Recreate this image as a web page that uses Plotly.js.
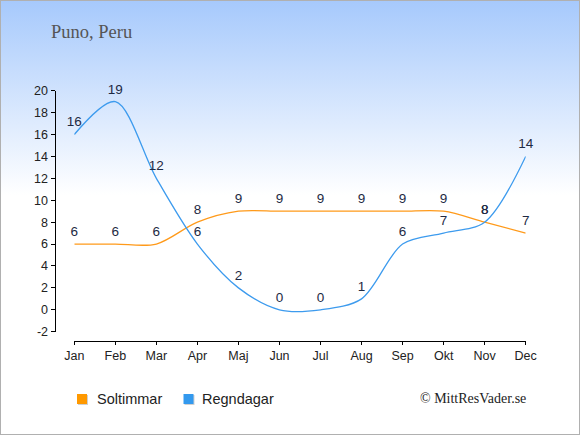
<!DOCTYPE html>
<html>
<head>
<meta charset="utf-8">
<script src="https://cdn.plot.ly/plotly-3.0.1.min.js"></script>
<style>
html,body{margin:0;padding:0;}
#wrap{width:580px;height:435px;background:linear-gradient(to bottom,#a6c9fc 0px,#ffffff 195px,#ffffff 435px);}
#chart{width:580px;height:435px;}
</style>
</head>
<body>
<div id="wrap"><div id="chart"></div></div>
<script>
const months = ["Jan","Feb","Mar","Apr","Maj","Jun","Jul","Aug","Sep","Okt","Nov","Dec"];
const soltimmar = [6,6,6,8,9,9,9,9,9,9,8,7];
const regndagar = [16,19,12,6,2,0,0,1,6,7,8,14];
const yTickValues = [-2,0,2,4,6,8,10,12,14,16,18,20];
const yTickLabels = ["-2","0","2","4","6","8","10","12","14","16","18","20"];
const seriesNames = ["Soltimmar","Regndagar"];
const seriesColors = ["#ff9a1a","#3d9bee"];
const legendColors = ["#ff9900","#3399ee"];
const titleText = "Puno, Peru";
const creditText = "© MittResVader.se";

const W = 580, H = 435;
const labelFont = {family:"Liberation Sans, Arial, sans-serif", size:13.5, color:"#1e2a44"};

function lineTrace(vals, i){
  return {
    x: months, y: vals, type:"scatter", mode:"lines+markers+text",
    name: seriesNames[i], showlegend:false,
    line:{color:seriesColors[i], width:1.3, shape:"spline", smoothing:0.9},
    marker:{size:6, color:"rgba(0,0,0,0)"},
    text: vals.map(String), textposition:"top center", textfont: labelFont,
    cliponaxis:false, hoverinfo:"skip"
  };
}

const data = [lineTrace(soltimmar,0), lineTrace(regndagar,1)];

const tickFont = {family:"Liberation Sans, Arial, sans-serif", size:12.5, color:"#222"};
const legFont = {family:"Liberation Sans, Arial, sans-serif", size:14.5, color:"#222"};

// legend key layout (pixels)
const legendSquareLeft = [77, 183.5];
const legendTextLeft = [94.5, 199.5];
const legendCenterY = 399;

const shapes = [];
const annotations = [];
for (let i = 0; i < seriesNames.length; i++) {
  shapes.push({type:"rect", xref:"paper", yref:"paper",
    x0:(legendSquareLeft[i]+1)/W, x1:(legendSquareLeft[i]+11)/W,
    y0:1-(legendCenterY+6)/H, y1:1-(legendCenterY-4)/H,
    line:{width:0}, fillcolor:"rgba(120,120,120,0.35)", layer:"above"});
  shapes.push({type:"rect", xref:"paper", yref:"paper",
    x0:legendSquareLeft[i]/W, x1:(legendSquareLeft[i]+10)/W,
    y0:1-(legendCenterY+5)/H, y1:1-(legendCenterY-5)/H,
    line:{width:0}, fillcolor:legendColors[i], layer:"above"});
  annotations.push({text:seriesNames[i], xref:"paper", yref:"paper",
    x:legendTextLeft[i]/W, xanchor:"left", y:1-legendCenterY/H, yanchor:"middle",
    showarrow:false, font:legFont});
}
annotations.push({text:creditText, xref:"paper", yref:"paper", x:528/W, xanchor:"right", y:1-398/H, yanchor:"middle",
  showarrow:false, font:{family:"Liberation Serif, Times New Roman, serif", size:14, color:"#222"}});
shapes.push({type:"rect", xref:"paper", yref:"paper", x0:0, x1:1, y0:0, y1:1, line:{color:"#b0b0b0", width:2}, layer:"above"});

const layout = {
  width:W, height:H,
  margin:{l:0,r:0,t:0,b:0,pad:0},
  paper_bgcolor:"rgba(0,0,0,0)", plot_bgcolor:"rgba(0,0,0,0)",
  title:{text:titleText, x:51/W, xanchor:"left", xref:"paper", y:1-32/H, yanchor:"middle", yref:"paper",
         font:{family:"Liberation Serif, Times New Roman, serif", size:18.5, color:"#555"}},
  xaxis:{type:"category", range:[0,11], domain:[74.3/W, 525.7/W], anchor:"free", position:1-341/H,
         showline:true, linecolor:"#000", linewidth:1, ticks:"outside", ticklen:3, tickcolor:"#000",
         showgrid:false, zeroline:false, tickfont:tickFont, fixedrange:true},
  yaxis:{range:[-2,20], tickmode:"array", tickvals:yTickValues, ticktext:yTickLabels,
         domain:[1-331.7/H, 1-90.7/H], anchor:"free", position:54.5/W,
         showline:true, linecolor:"#000", linewidth:1, ticks:"outside", ticklen:4, tickcolor:"#000",
         showgrid:false, zeroline:false, tickfont:tickFont, fixedrange:true},
  showlegend:false,
  annotations: annotations,
  shapes: shapes
};

Plotly.newPlot("chart", data, layout, {displayModeBar:false, staticPlot:true});
</script>
</body>
</html>
